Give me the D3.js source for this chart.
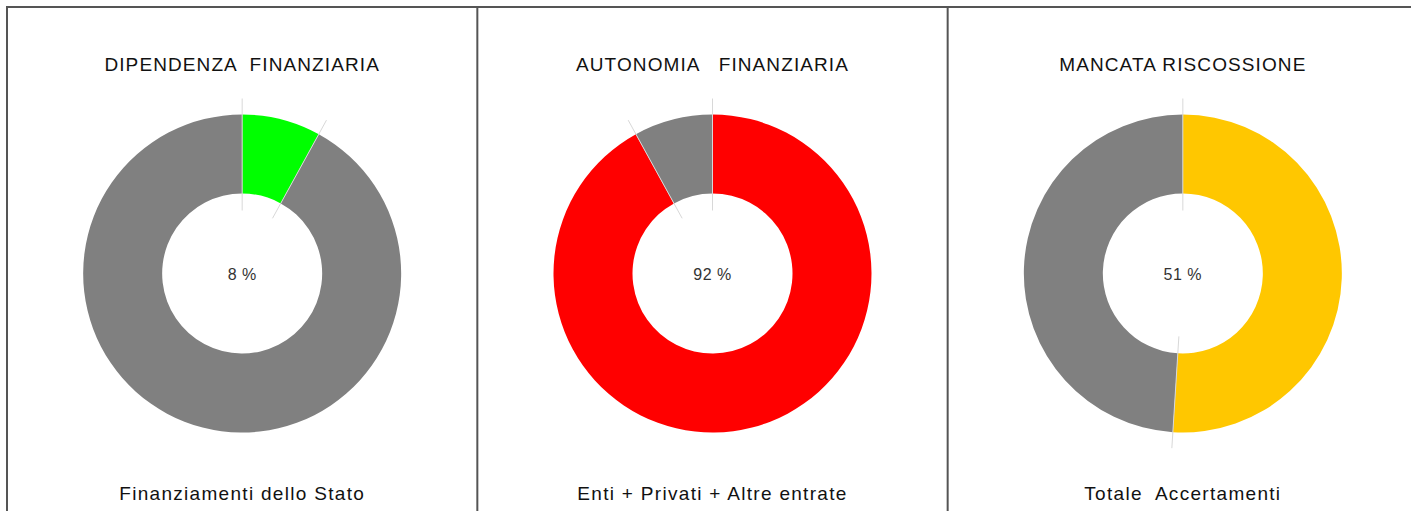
<!DOCTYPE html>
<html lang="it">
  <head>
    <meta charset="UTF-8" />
    <title>Indicatori finanziari</title>
    <style>
      body { margin: 0; background: #fff; }
      svg { display: block; }
      text { white-space: pre; }
    </style>
  </head>
  <body>
    <div id="chart"></div>

    <script src="https://cdn.jsdelivr.net/npm/d3@7"></script>
    <script>
      // data
      var titles = ["DIPENDENZA  FINANZIARIA", "AUTONOMIA   FINANZIARIA", "MANCATA RISCOSSIONE"];
      var footers = ["Finanziamenti dello Stato", "Enti + Privati + Altre entrate", "Totale  Accertamenti"];
      var percents = [8, 92, 51];
      var colors = ["#00ff00", "#ff0000", "#ffc700"];
      var restColor = "#808080";

      var width = 1411;
      var height = 511;
      var borderX = 7;
      var centerY = 273.5;
      var outerR = 159;
      var innerR = 80;

      var svg = d3.select("#chart")
                  .append("svg")
                  .attr("width", width)
                  .attr("height", height);

      var xBand = d3.scaleBand()
                    .domain(titles)
                    .range([borderX, width + 7]);

      var pie = d3.pie().sort(null).value(function(d){ return d; });
      var arc = d3.arc().innerRadius(innerR).outerRadius(outerR);
      var angle = d3.scaleLinear().domain([0, 100]).range([0, 2 * Math.PI]);

      var panels = svg.selectAll("g.panel")
                      .data(titles)
                      .enter()
                      .append("g")
                      .attr("class", "panel")
                      .attr("transform", function(d){
                        return "translate(" + xBand(d) + ",0)";
                      });

      // borders
      panels.append("line")
            .attr("x1", 0).attr("x2", 0)
            .attr("y1", 6).attr("y2", height)
            .attr("stroke", "#555")
            .attr("stroke-width", 2);

      svg.append("line")
         .attr("x1", borderX - 1).attr("x2", width)
         .attr("y1", 7).attr("y2", 7)
         .attr("stroke", "#555")
         .attr("stroke-width", 2);

      var cx = xBand.bandwidth() / 2;

      panels.append("text")
            .attr("x", cx)
            .attr("y", 71)
            .attr("text-anchor", "middle")
            .attr("font-family", "Liberation Sans, Arial, sans-serif")
            .attr("font-size", "19px")
            .attr("letter-spacing", "1.1px")
            .attr("fill", "#111")
            .text(function(d){ return d; });

      panels.append("text")
            .attr("x", cx)
            .attr("y", 500)
            .attr("text-anchor", "middle")
            .attr("font-family", "Liberation Sans, Arial, sans-serif")
            .attr("font-size", "19px")
            .attr("letter-spacing", "1.3px")
            .attr("fill", "#111")
            .text(function(d, i){ return footers[i]; });

      var donuts = panels.append("g")
                         .attr("transform", "translate(" + cx + "," + centerY + ")");

      donuts.selectAll("path")
            .data(function(d, i){
              return pie([percents[i], 100 - percents[i]]).map(function(s, j){
                s.color = j === 0 ? colors[i] : restColor;
                return s;
              });
            })
            .enter()
            .append("path")
            .attr("d", arc)
            .attr("fill", function(d){ return d.color; });

      // thin separators at slice boundaries
      donuts.selectAll("line.sep")
            .data(function(d, i){ return [0, percents[i]]; })
            .enter()
            .append("line")
            .attr("class", "sep")
            .attr("x1", function(p){ return 63 * Math.sin(angle(p)); })
            .attr("y1", function(p){ return -63 * Math.cos(angle(p)); })
            .attr("x2", function(p){ return 175 * Math.sin(angle(p)); })
            .attr("y2", function(p){ return -175 * Math.cos(angle(p)); })
            .attr("stroke", "#d8d8d8")
            .attr("stroke-width", 1);

      donuts.append("text")
            .attr("y", 6)
            .attr("text-anchor", "middle")
            .attr("font-family", "Liberation Sans, Arial, sans-serif")
            .attr("font-size", "16px")
            .attr("letter-spacing", "0.5px")
            .attr("fill", "#333")
            .text(function(d, i){ return percents[i] + " %"; });
    </script>
  </body>
</html>
